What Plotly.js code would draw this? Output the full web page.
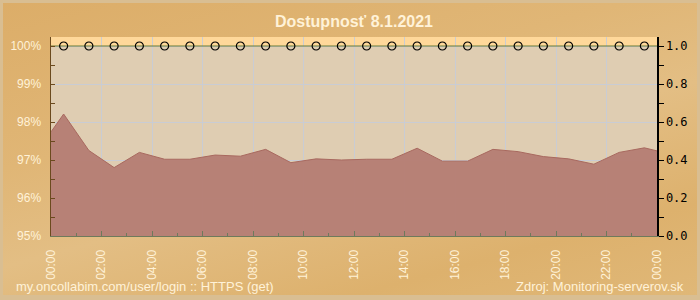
<!DOCTYPE html>
<html>
<head>
<meta charset="utf-8">
<script src="https://cdn.plot.ly/plotly-3.0.1.min.js"></script>
<style>
  html, body { margin: 0; padding: 0; width: 700px; height: 300px; overflow: hidden; }
  #wrap { position: relative; width: 700px; height: 300px;
    background: linear-gradient(165deg, #DCAD68 0%, #E0B676 35%, #E3BE84 55%, #DDB16D 80%, #E0B878 100%); }
  #chart { position: absolute; left: 0; top: 0; width: 700px; height: 300px; }
  #frame { position: absolute; left: 0; top: 0; width: 700px; height: 300px; box-sizing: border-box;
    border: 3px solid #D9BE92; border-bottom-width: 5px; pointer-events: none; }
</style>
</head>
<body>
<div id="wrap"><div id="chart"></div><div id="frame"></div></div>
<script>
// Hours of day (0 = 00:00, 24 = next 00:00)
const hours = [0, 0.5, 1.5, 2.5, 3.5, 4.5, 5.5, 6.5, 7.5, 8.5, 9.5, 10.5, 11.5, 12.5, 13.5, 14.5, 15.5, 16.5, 17.5, 18.5, 19.5, 20.5, 21.5, 22.5, 23.5, 24];
// Availability in %
const availability = [97.74, 98.21, 97.25, 96.80, 97.20, 97.02, 97.02, 97.13, 97.10, 97.28, 96.93, 97.03, 97.00, 97.02, 97.02, 97.31, 96.97, 96.97, 97.28, 97.22, 97.09, 97.03, 96.89, 97.20, 97.32, 97.24];
// Status check points (right axis)
const statusHours = [0.5, 1.5, 2.5, 3.5, 4.5, 5.5, 6.5, 7.5, 8.5, 9.5, 10.5, 11.5, 12.5, 13.5, 14.5, 15.5, 16.5, 17.5, 18.5, 19.5, 20.5, 21.5, 22.5, 23.5];
const statusValues = [1, 1, 1, 1, 1, 1, 1, 1, 1, 1, 1, 1, 1, 1, 1, 1, 1, 1, 1, 1, 1, 1, 1, 1];
const statusLineX = [0, 24];
const statusLineY = [1, 1];
// X tick labels
const xTickVals = [0, 2, 4, 6, 8, 10, 12, 14, 16, 18, 20, 22, 24];
const xTickText = ["00:00", "02:00", "04:00", "06:00", "08:00", "10:00", "12:00", "14:00", "16:00", "18:00", "20:00", "22:00", "00:00"];

const cream = '#FFF2D8';
const traces = [
  {
    x: hours, y: availability, type: 'scatter', mode: 'lines',
    fill: 'tozeroy', fillcolor: 'rgba(182,126,116,0.97)',
    line: { color: '#A8695F', width: 1 }, yaxis: 'y', hoverinfo: 'skip'
  },
  {
    x: statusLineX, y: statusLineY, type: 'scatter', mode: 'lines',
    line: { color: '#6B7A34', width: 1.2 }, yaxis: 'y2', hoverinfo: 'skip'
  },
  {
    x: statusHours, y: statusValues, type: 'scatter', mode: 'markers',
    marker: { symbol: 'circle-open', size: 8, color: '#000000', line: { color: '#000000', width: 1.2 } },
    yaxis: 'y2', hoverinfo: 'skip'
  }
];

const layout = {
  width: 700, height: 300,
  margin: { l: 51, r: 43, t: 37, b: 64, pad: 0 },
  paper_bgcolor: 'rgba(0,0,0,0)',
  plot_bgcolor: '#DFCDB2',
  showlegend: false,
  title: {
    text: 'Dostupnosť 8.1.2021',
    font: { family: 'Liberation Sans, Arial, sans-serif', size: 16, color: cream, weight: 'bold' },
    x: 0.5, xanchor: 'center', y: 1 - 21 / 300, yanchor: 'middle', xref: 'paper'
  },
  xaxis: {
    range: [0, 24], tickvals: xTickVals, ticktext: xTickText, tickangle: -90,
    showline: true, linecolor: '#6E7A5C', linewidth: 1,
    ticks: 'inside', ticklen: 5, tickcolor: '#6E7A5C',
    minor: { dtick: 1, ticks: 'inside', ticklen: 3, tickcolor: '#6E7A5C', showgrid: false },
    showgrid: true, gridcolor: '#C9CCD4', gridwidth: 1, zeroline: false,
    tickfont: { family: 'Liberation Sans, Arial, sans-serif', size: 12, color: cream },
    ticklabelstandoff: 8,
    fixedrange: true
  },
  yaxis: {
    range: [95, 100.237], dtick: 1, tick0: 95, ticksuffix: '%',
    showline: true, linecolor: '#6B4A1E', linewidth: 1.5,
    ticks: 'inside', ticklen: 4, tickcolor: '#6B4A1E',
    minor: { dtick: 0.5, ticks: 'inside', ticklen: 4, tickcolor: '#6B4A1E', showgrid: false },
    showgrid: true, gridcolor: '#C9CCD4', gridwidth: 1, zeroline: false,
    tickfont: { family: 'Liberation Sans, Arial, sans-serif', size: 12, color: cream },
    ticklabelstandoff: 6,
    fixedrange: true
  },
  yaxis2: {
    overlaying: 'y', side: 'right', range: [0, 1.0474], dtick: 0.2, tick0: 0, tickformat: '.1f',
    showline: true, linecolor: '#000000', linewidth: 1.5,
    ticks: 'outside', ticklen: 5, tickcolor: '#000000',
    minor: { dtick: 0.1, ticks: 'outside', ticklen: 5, tickcolor: '#000000', showgrid: false },
    showgrid: false, zeroline: false,
    tickfont: { family: 'DejaVu Sans Mono, monospace', size: 12, color: '#000000' },
    fixedrange: true
  },
  shapes: [
    { type: 'rect', xref: 'paper', yref: 'y', x0: 0, x1: 1, y0: 100, y1: 100.237,
      fillcolor: '#FFD89A', line: { width: 0 }, layer: 'below' }
  ],
  annotations: [
    { text: 'my.oncollabim.com/user/login :: HTTPS (get)', xref: 'paper', yref: 'paper',
      x: (14 - 51) / 606, y: (236 - 286) / 199, xanchor: 'left', yanchor: 'middle', showarrow: false,
      font: { family: 'Liberation Sans, Arial, sans-serif', size: 13, color: cream } },
    { text: 'Zdroj: Monitoring-serverov.sk', xref: 'paper', yref: 'paper',
      x: (686 - 51) / 606, y: (236 - 286) / 199, xanchor: 'right', yanchor: 'middle', showarrow: false,
      font: { family: 'Liberation Sans, Arial, sans-serif', size: 13, color: cream } }
  ]
};

Plotly.newPlot('chart', traces, layout, { displayModeBar: false, staticPlot: true });
</script>
</body>
</html>
